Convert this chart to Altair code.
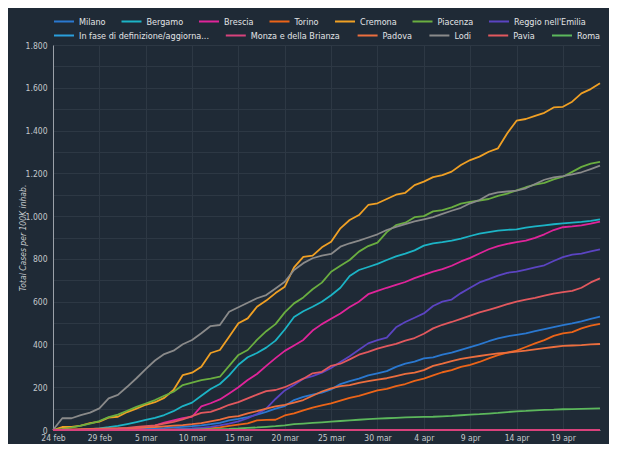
import altair as alt
import pandas as pd

dates = pd.date_range("2020-02-24", "2020-04-23", freq="D").strftime("%Y-%m-%d").tolist()

row1_names = ["Milano", "Bergamo", "Brescia", "Torino", "Cremona", "Piacenza", "Reggio nell'Emilia"]
row1_colors = ["#2a78d0", "#1cb4c6", "#e0249a", "#ec6418", "#f0a024", "#6aae40", "#5b44c2"]
row2_names = ["In fase di definizione/aggiornamento", "Monza e della Brianza", "Padova", "Lodi", "Pavia", "Roma"]
row2_colors = ["#2a9fdc", "#d8427c", "#ec6e3e", "#8a8a8a", "#e2585e", "#5cb85c"]

milano = [0, 0, 0, 1, 1, 2, 2, 3, 4, 5, 6, 7, 9, 12, 15, 18, 22, 27, 33, 45,
          52, 60, 72, 85, 100, 112, 140, 155, 165, 175, 190, 215, 228, 240, 255, 265, 275, 295, 310, 320,
          335, 340, 352, 362, 375, 387, 400, 415, 428, 438, 445, 452, 462, 472, 481, 490, 498, 508, 520, 530]
bergamo = [0, 0, 1, 2, 4, 8, 13, 19, 28, 37, 47, 57, 70, 88, 112, 128, 160, 192, 215, 255,
           305, 340, 360, 385, 418, 470, 528, 555, 576, 600, 630, 665, 720, 748, 762, 777, 795, 812, 825, 840,
           862, 873, 878, 885, 895, 907, 918, 925, 932, 936, 938, 946, 952, 957, 962, 966, 970, 973, 978, 985]
brescia = [0, 0, 0, 0, 0, 1, 2, 3, 5, 8, 12, 20, 34, 45, 55, 62, 110, 125, 143, 171,
           200, 234, 262, 300, 336, 370, 395, 421, 465, 495, 520, 545, 575, 600, 635, 650, 665, 678, 692, 710,
           725, 740, 752, 768, 788, 805, 825, 845, 860, 870, 878, 885, 898, 915, 935, 948, 952, 957, 965, 974]
torino = [0, 0, 0, 0, 0, 0, 0, 0, 0, 1, 1, 1, 2, 3, 4, 5, 7, 9, 12, 19,
          25, 31, 45, 47, 48, 68, 78, 92, 105, 115, 125, 137, 150, 160, 172, 185, 192, 205, 215, 230,
          240, 255, 270, 280, 295, 305, 318, 335, 350, 362, 371, 388, 405, 420, 440, 452, 458, 475, 488, 496]
cremona = [0, 14, 14, 20, 32, 39, 58, 62, 84, 100, 118, 130, 150, 187, 257, 268, 296, 360, 374, 436,
           499, 522, 576, 605, 640, 670, 760, 809, 815, 854, 880, 943, 982, 1005, 1052, 1060, 1080, 1100, 1109, 1145,
           1161, 1182, 1192, 1208, 1239, 1262, 1278, 1301, 1317, 1387, 1446, 1454, 1469, 1483, 1508, 1511, 1535, 1574, 1594, 1621]
piacenza = [0, 5, 11, 20, 30, 42, 60, 72, 90, 108, 124, 140, 160, 179, 210, 222, 233, 240, 249, 300,
            351, 374, 421, 462, 495, 550, 592, 620, 658, 689, 740, 768, 795, 834, 860, 876, 925, 958, 969, 995,
            1000, 1022, 1028, 1041, 1058, 1067, 1073, 1080, 1095, 1105, 1120, 1135, 1147, 1155, 1172, 1184, 1207, 1230, 1245, 1254]
reggio = [0, 0, 0, 0, 0, 0, 0, 0, 0, 0, 0, 1, 2, 3, 5, 7, 10, 15, 22, 30,
          40, 55, 75, 100, 145, 185, 210, 240, 252, 268, 290, 318, 345, 375, 405, 420, 432, 480, 505, 525,
          545, 580, 600, 610, 640, 665, 690, 705, 722, 735, 740, 750, 760, 770, 790, 808, 820, 825, 835, 845]
in_fase = [0] * 60
monza = [0] * 60
padova = [1, 2, 3, 4, 5, 6, 7, 8, 9, 10, 12, 14, 17, 20, 23, 27, 32, 40, 48, 60,
          65, 78, 88, 100, 110, 117, 128, 140, 160, 180, 195, 205, 210, 220, 228, 235, 242, 252, 262, 268,
          280, 300, 310, 322, 332, 340, 346, 352, 358, 362, 366, 371, 377, 383, 388, 393, 395, 397, 400, 402]
lodi = [0, 55, 55, 70, 81, 101, 148, 164, 202, 242, 285, 325, 355, 371, 401, 421, 452, 486, 491, 553,
        574, 595, 616, 631, 662, 693, 748, 780, 803, 815, 823, 857, 873, 885, 900, 915, 935, 950, 962, 975,
        985, 995, 1010, 1025, 1039, 1060, 1075, 1100, 1111, 1115, 1119, 1130, 1150, 1170, 1181, 1187, 1195, 1205, 1220, 1236]
pavia = [0, 0, 1, 2, 3, 4, 5, 7, 10, 14, 18, 22, 30, 38, 50, 65, 80, 85, 100, 118,
         130, 148, 165, 182, 187, 200, 220, 240, 265, 272, 300, 310, 330, 352, 365, 380, 392, 403, 418, 430,
         450, 475, 492, 505, 520, 535, 550, 562, 575, 588, 600, 610, 618, 628, 638, 645, 650, 665, 690, 709]
roma = [0, 0, 0, 0, 0, 0, 0, 0, 0, 0, 0, 1, 1, 1, 2, 2, 3, 3, 4, 5,
        7, 10, 12, 15, 18, 22, 27, 30, 33, 36, 39, 42, 45, 48, 51, 53, 55, 57, 59, 60,
        61, 62, 64, 66, 69, 72, 74, 77, 80, 84, 87, 89, 92, 94, 95, 97, 98, 99, 100, 101]

row1_series = [("Milano", milano), ("Bergamo", bergamo), ("Brescia", brescia), ("Torino", torino),
               ("Cremona", cremona), ("Piacenza", piacenza), ("Reggio nell'Emilia", reggio)]
# draw order in the second group: Monza last so the pink baseline sits on top
row2_series = [("In fase di definizione/aggiornamento", in_fase), ("Padova", padova), ("Lodi", lodi),
               ("Pavia", pavia), ("Roma", roma), ("Monza e della Brianza", monza)]


def frame(series):
    rows = []
    for name, vals in series:
        for d, v in zip(dates, vals):
            rows.append({"date": d, "series": name, "value": v})
    return pd.DataFrame(rows)


FONT = "DejaVu Sans Condensed, sans-serif"
GRID = "#2d3844"
LABEL = "#c4c8cc"

tick_dates = [alt.DateTime(year=2020, month=m, date=dd, utc=True) for m, dd in
              [(2, 24), (2, 29), (3, 5), (3, 10), (3, 15), (3, 20), (3, 25), (3, 30),
               (4, 4), (4, 9), (4, 14), (4, 19)]]

x_enc = alt.X("date:T",
              scale=alt.Scale(type="utc", nice=False,
                              domain=[alt.DateTime(year=2020, month=2, date=24, utc=True),
                                      alt.DateTime(year=2020, month=4, date=23, utc=True)]),
              axis=alt.Axis(values=tick_dates, title=None, ticks=False, labelPadding=3,
                            labelExpr="lower(utcFormat(datum.value, '%-d %b'))",
                            labelColor=LABEL, labelFontSize=8.5, labelFont=FONT,
                            grid=True, gridColor=GRID, domainColor="#8a9099",
                            labelFlush=False))
y_enc = alt.Y("value:Q",
              scale=alt.Scale(domain=[0, 1800], nice=False),
              axis=alt.Axis(values=list(range(0, 1801, 100)), ticks=False, labelPadding=6,
                            labelExpr="datum.value % 200 == 0 ? replace(format(datum.value, ','), ',', '.') : ''",
                            labelColor=LABEL, labelFontSize=8.5, labelFont=FONT,
                            grid=True, gridColor=GRID, domainColor="#9aa0a8",
                            title="Total Cases per 100K inhab.", titleFont=FONT,
                            titleFontSize=8.5, titleFontStyle="italic", titleFontWeight="normal",
                            titleColor=LABEL, titleX=-31, titleBaseline="middle"))


def legend_for(n, ly, gap):
    return alt.Legend(orient="none", legendX=0, legendY=ly, columns=n, direction="horizontal",
                      columnPadding=gap, padding=0,
                      symbolType="stroke", symbolSize=400, symbolStrokeWidth=2,
                      labelColor="#e2e4e6", labelFontSize=9, labelFont=FONT,
                      labelOffset=4, labelLimit=400,
                      labelExpr="datum.label == 'In fase di definizione/aggiornamento' ? 'In fase di definizione/aggiorna...' : datum.label")


layer1 = alt.Chart(frame(row1_series)).mark_line(strokeWidth=1.8, strokeJoin="round").encode(
    x=x_enc, y=y_enc,
    color=alt.Color("series:N", title=None,
                    scale=alt.Scale(domain=row1_names, range=row1_colors),
                    legend=legend_for(7, -34.5, 11.5)),
)
layer2 = alt.Chart(frame(row2_series)).mark_line(strokeWidth=1.8, strokeJoin="round").encode(
    x=x_enc, y=y_enc,
    color=alt.Color("series:N", title=None,
                    scale=alt.Scale(domain=row2_names, range=row2_colors),
                    legend=legend_for(6, -20.5, 12.8)),
)

chart = alt.layer(layer1, layer2).resolve_scale(color="independent").properties(
    width=547, height=385,
    autosize=alt.AutoSizeParams(type="none"),
    padding={"left": 45, "top": 37, "right": 9, "bottom": 14},
    background="#1f2a36",
).configure_view(strokeWidth=0)

chart.save("out.html", embed_options={"renderer": "svg", "actions": False})
